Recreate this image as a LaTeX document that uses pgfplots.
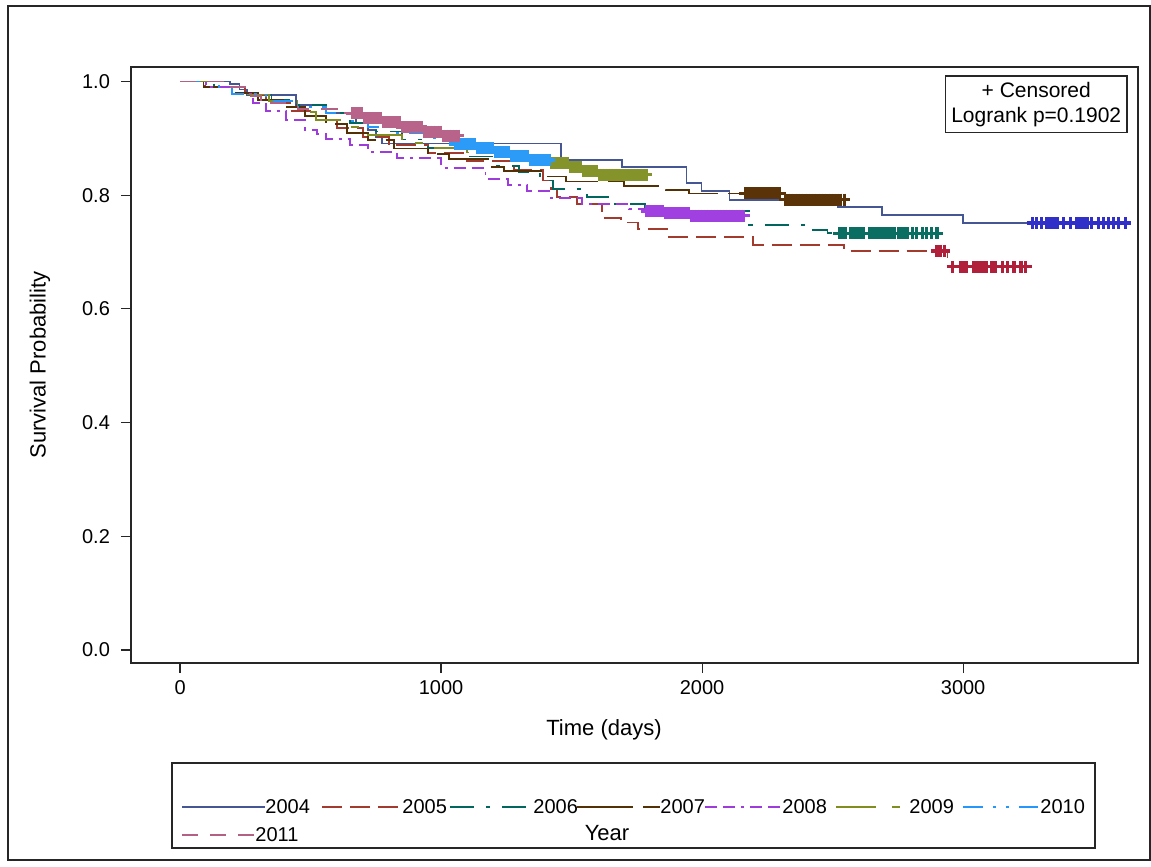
\documentclass[border=0pt]{standalone}
\usepackage{pgfplots}
\pgfplotsset{compat=1.18}
\usepackage{fontspec}
\setmainfont{Liberation Sans}
\definecolor{c1}{HTML}{445694}
\definecolor{c2}{HTML}{A23A2E}
\definecolor{c3}{HTML}{01665E}
\definecolor{c4}{HTML}{543005}
\definecolor{c5}{HTML}{9D3CDB}
\definecolor{c6}{HTML}{7F8E1F}
\definecolor{c7}{HTML}{2597FA}
\definecolor{c8}{HTML}{B26084}
\definecolor{m1}{HTML}{3030C8}
\definecolor{m2}{HTML}{B0203A}
\definecolor{m3}{HTML}{0A6E62}
\definecolor{m4}{HTML}{5A3408}
\definecolor{m5}{HTML}{A040E0}
\definecolor{m6}{HTML}{84932A}
\definecolor{m7}{HTML}{2C9BF8}
\definecolor{m8}{HTML}{B8648A}
\tikzset{
 s2004/.style={c1, solid, line width=0.9pt},
 s2005/.style={c2, line width=0.9pt, dash pattern=on 10pt off 4pt},
 s2006/.style={c3, line width=0.9pt, dash pattern=on 12pt off 6pt on 2pt off 6pt},
 s2007/.style={c4, line width=0.9pt, dash pattern=on 28pt off 5pt},
 s2008/.style={c5, line width=0.9pt, dash pattern=on 6pt off 3pt on 6pt off 3pt on 1.5pt off 3pt},
 s2009/.style={c6, line width=0.9pt, dash pattern=on 20pt off 8pt on 4pt off 8pt},
 s2010/.style={c7, line width=0.9pt, dash pattern=on 10pt off 5pt on 1.5pt off 5pt on 1.5pt off 5pt},
 s2011/.style={c8, line width=0.9pt, dash pattern=on 8pt off 6pt},
 cens/.style={only marks, mark=+, mark size=3pt, mark options={solid, line width=1.6pt}},
}
\begin{document}
\begin{tikzpicture}[x=1pt,y=1pt]
\path[use as bounding box] (0,0) rectangle (575.5,-433.5);
\draw[line width=1pt, black!85] (3.75,-3) rectangle (574.75,-430);
\begin{axis}[
  at={(65.5pt,-33.5pt)}, anchor=north west,
  scale only axis, width=503.5pt, height=298pt,
  xmin=-188, xmax=3670, ymin=-0.0229, ymax=1.0255,
  xtick={0,1000,2000,3000}, ytick={0,0.2,0.4,0.6,0.8,1.0},
  tick align=outside, tick pos=left, major tick length=5pt,
  tick style={black!85, line width=0.6pt},
  axis line style={black!85, line width=0.8pt},
  /pgf/number format/assume math mode=true,
  xticklabel style={font=\fontsize{10}{12}\selectfont, /pgf/number format/set thousands separator={}},
  yticklabel style={font=\fontsize{10}{12}\selectfont, xshift=-2pt, /pgf/number format/.cd, fixed, fixed zerofill, precision=1},
]
% 2004
\addplot[s2004, const plot] coordinates {(0,1)(190,0.995)(228,0.986)(255,0.976)(445,0.959)(560,0.945)(675,0.927)(720,0.915)(750,0.902)(775,0.891)(1458,0.862)(1692,0.849)(1940,0.821)(1998,0.808)(2105,0.791)(2520,0.779)(2690,0.765)(3000,0.751)(3621,0.751)};
\addplot[cens, m1] coordinates {(3267,0.751)(3280,0.751)(3301,0.751)(3321,0.751)(3331,0.751)(3341,0.751)(3351,0.751)(3361,0.751)(3384,0.751)(3410,0.751)(3435,0.751)(3445,0.751)(3455,0.751)(3465,0.751)(3475,0.751)(3493,0.751)(3519,0.751)(3538,0.751)(3557,0.751)(3576,0.751)(3595,0.751)(3621,0.751)};
% 2005
\addplot[s2005, const plot] coordinates {(0,1)(95,0.990)(250,0.976)(330,0.962)(420,0.948)(520,0.933)(600,0.918)(700,0.903)(800,0.888)(950,0.874)(1100,0.860)(1280,0.845)(1390,0.826)(1420,0.810)(1445,0.797)(1520,0.784)(1615,0.760)(1690,0.752)(1755,0.740)(1866,0.726)(2195,0.712)(2545,0.702)(2940,0.674)(3240,0.674)};
\addplot[cens, m2] coordinates {(2900,0.702)(2914,0.702)(2928,0.702)(2960,0.674)(2990,0.674)(3002,0.674)(3014,0.674)(3040,0.674)(3052,0.674)(3064,0.674)(3076,0.674)(3088,0.674)(3110,0.674)(3122,0.674)(3150,0.674)(3170,0.674)(3195,0.674)(3222,0.674)(3240,0.674)};
% 2006
\addplot[s2006, const plot] coordinates {(0,1)(130,0.990)(200,0.977)(350,0.968)(430,0.958)(560,0.944)(650,0.927)(750,0.912)(850,0.898)(950,0.883)(1100,0.868)(1210,0.852)(1300,0.840)(1380,0.826)(1430,0.811)(1560,0.797)(1650,0.785)(1780,0.772)(2180,0.748)(2390,0.739)(2480,0.733)(2910,0.733)};
\addplot[cens, m3] coordinates {(2525,0.733)(2537,0.733)(2549,0.733)(2570,0.733)(2582,0.733)(2594,0.733)(2606,0.733)(2618,0.733)(2640,0.733)(2652,0.733)(2664,0.733)(2676,0.733)(2688,0.733)(2700,0.733)(2712,0.733)(2724,0.733)(2736,0.733)(2752,0.733)(2764,0.733)(2776,0.733)(2788,0.733)(2805,0.733)(2820,0.733)(2845,0.733)(2860,0.733)(2880,0.733)(2900,0.733)};
% 2007
\addplot[s2007, const plot] coordinates {(0,1)(90,0.990)(200,0.980)(300,0.968)(400,0.955)(480,0.940)(560,0.925)(640,0.910)(720,0.897)(820,0.882)(950,0.872)(1030,0.863)(1180,0.850)(1240,0.842)(1400,0.833)(1480,0.824)(1700,0.816)(1860,0.809)(1950,0.803)(2310,0.792)(2545,0.792)};
\addplot[cens, m4] coordinates {(2166,0.803)(2178,0.803)(2190,0.803)(2202,0.803)(2214,0.803)(2226,0.803)(2238,0.803)(2250,0.803)(2262,0.803)(2274,0.803)(2286,0.803)(2298,0.803)(2318,0.792)(2330,0.792)(2342,0.792)(2356,0.792)(2368,0.792)(2380,0.792)(2394,0.792)(2406,0.792)(2418,0.792)(2432,0.792)(2444,0.792)(2456,0.792)(2470,0.792)(2482,0.792)(2494,0.792)(2506,0.792)(2518,0.792)(2530,0.792)(2545,0.792)};
% 2008
\addplot[s2008, const plot] coordinates {(0,1)(100,0.990)(200,0.978)(280,0.962)(330,0.948)(407,0.932)(480,0.915)(525,0.907)(560,0.899)(650,0.888)(720,0.876)(830,0.866)(1000,0.848)(1170,0.829)(1256,0.818)(1330,0.807)(1420,0.795)(1540,0.785)(1720,0.776)(1790,0.772)(1860,0.768)(1950,0.764)(2160,0.764)};
\addplot[cens, m5] coordinates {(1788,0.772)(1800,0.772)(1812,0.772)(1824,0.772)(1836,0.772)(1848,0.772)(1862,0.768)(1874,0.768)(1886,0.768)(1898,0.768)(1910,0.768)(1922,0.768)(1934,0.768)(1946,0.768)(1958,0.764)(1970,0.764)(1982,0.764)(1994,0.764)(2006,0.764)(2018,0.764)(2030,0.764)(2042,0.764)(2054,0.764)(2066,0.764)(2078,0.764)(2090,0.764)(2102,0.764)(2114,0.764)(2126,0.764)(2138,0.764)(2150,0.764)(2160,0.764)};
% 2009
\addplot[s2009, const plot] coordinates {(0,1)(150,0.990)(250,0.977)(340,0.966)(450,0.947)(520,0.932)(620,0.920)(700,0.906)(850,0.892)(950,0.883)(1100,0.875)(1300,0.866)(1420,0.857)(1490,0.850)(1540,0.843)(1600,0.836)(1790,0.836)};
\addplot[cens, m6] coordinates {(1424,0.857)(1436,0.857)(1448,0.857)(1460,0.857)(1472,0.857)(1484,0.857)(1496,0.850)(1508,0.850)(1520,0.850)(1532,0.850)(1546,0.843)(1558,0.843)(1570,0.843)(1582,0.843)(1594,0.843)(1606,0.836)(1618,0.836)(1630,0.836)(1642,0.836)(1654,0.836)(1666,0.836)(1678,0.836)(1690,0.836)(1702,0.836)(1714,0.836)(1726,0.836)(1738,0.836)(1750,0.836)(1762,0.836)(1774,0.836)(1786,0.836)};
% 2010
\addplot[s2010, const plot] coordinates {(0,1)(150,0.990)(200,0.978)(330,0.966)(450,0.955)(560,0.944)(640,0.930)(720,0.920)(820,0.910)(950,0.900)(1054,0.890)(1130,0.883)(1200,0.876)(1270,0.869)(1340,0.862)(1420,0.862)};
\addplot[cens, m7] coordinates {(1054,0.890)(1066,0.890)(1078,0.890)(1090,0.890)(1102,0.890)(1114,0.890)(1126,0.890)(1138,0.883)(1150,0.883)(1162,0.883)(1174,0.883)(1186,0.883)(1198,0.883)(1210,0.876)(1222,0.876)(1234,0.876)(1246,0.876)(1258,0.876)(1270,0.869)(1282,0.869)(1294,0.869)(1306,0.869)(1318,0.869)(1330,0.869)(1342,0.862)(1354,0.862)(1366,0.862)(1378,0.862)(1390,0.862)(1402,0.862)(1414,0.862)};
% 2011
\addplot[s2011, const plot] coordinates {(0,1)(170,0.990)(260,0.975)(310,0.962)(450,0.952)(600,0.944)(700,0.936)(780,0.928)(850,0.920)(930,0.912)(1000,0.905)(1066,0.905)};
\addplot[cens, m8] coordinates {(660,0.944)(672,0.944)(684,0.944)(696,0.944)(708,0.936)(720,0.936)(732,0.936)(744,0.936)(756,0.936)(768,0.936)(780,0.928)(792,0.928)(804,0.928)(816,0.928)(828,0.928)(840,0.928)(852,0.920)(864,0.920)(876,0.920)(888,0.920)(900,0.920)(912,0.920)(924,0.920)(936,0.912)(948,0.912)(960,0.912)(972,0.912)(984,0.912)(996,0.912)(1008,0.905)(1020,0.905)(1032,0.905)(1044,0.905)(1056,0.905)(1066,0.905)};
\end{axis}
% censored / logrank box
\node[draw=black!85, line width=0.8pt, anchor=north east, align=center, inner sep=3pt,
      font=\fontsize{10.5}{12.6}\selectfont] at (564,-37.5) {+ Censored\\Logrank p=0.1902};
% axis labels
\node[anchor=base, font=\fontsize{11}{13}\selectfont] at (302,-367.5) {Time (days)};
\node[rotate=90, anchor=center, font=\fontsize{11}{13}\selectfont] at (20,-182.5) {Survival Probability};
% legend
\draw[line width=0.8pt, black!85] (86,-381.5) rectangle (547.5,-424);
\begin{scope}[font=\fontsize{10}{12}\selectfont]
\draw[s2004] (91,-403.5) -- (132.5,-403.5); \node[anchor=west, inner sep=0pt] at (132.5,-403.5) {2004};
\draw[s2005] (161,-403.5) -- (201,-403.5); \node[anchor=west, inner sep=0pt] at (201,-403.5) {2005};
\draw[s2006] (225,-403.5) -- (266.5,-403.5); \node[anchor=west, inner sep=0pt] at (266.5,-403.5) {2006};
\draw[s2007] (288.5,-403.5) -- (330,-403.5); \node[anchor=west, inner sep=0pt] at (330,-403.5) {2007};
\draw[s2008] (352.5,-403.5) -- (391,-403.5); \node[anchor=west, inner sep=0pt] at (391,-403.5) {2008};
\draw[s2009] (418,-403.5) -- (454.5,-403.5); \node[anchor=west, inner sep=0pt] at (454.5,-403.5) {2009};
\draw[s2010] (481.5,-403.5) -- (519,-403.5); \node[anchor=west, inner sep=0pt] at (520,-403.5) {2010};
\draw[s2011] (91,-417.5) -- (127.5,-417.5); \node[anchor=west, inner sep=0pt] at (127.5,-417.5) {2011};
\node[anchor=center, font=\fontsize{11}{13}\selectfont] at (303.5,-416.5) {Year};
\end{scope}
\end{tikzpicture}
\end{document}
